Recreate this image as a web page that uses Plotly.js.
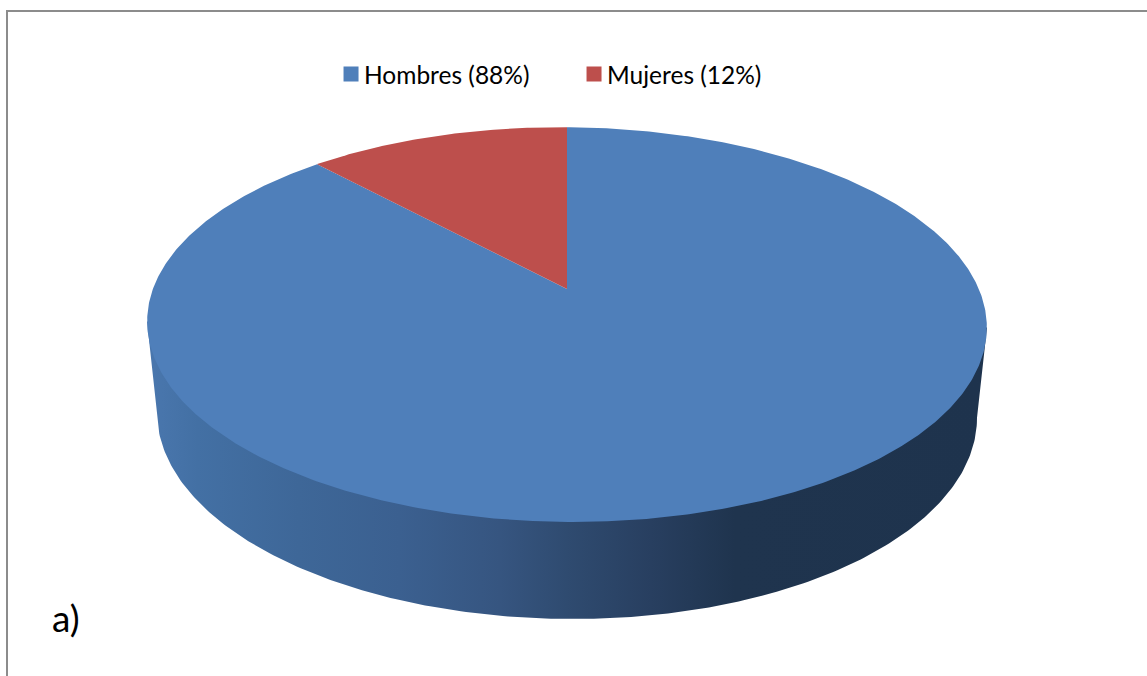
<!DOCTYPE html>
<html>
<head>
<meta charset="utf-8">
<script src="https://cdn.plot.ly/plotly-3.0.1.min.js"></script>
<style>html,body{margin:0;padding:0;background:#fff;overflow:hidden}#chart{width:1147px;height:676px}</style>
</head>
<body>
<div id="chart"></div>
<script>
// Data
var categories = ["Hombres", "Mujeres"];
var sharePercent = [88, 12];
var sliceColors = ["#4f7fba", "#bd4f4c"];
var panelLabel = "a)";
var fontName = "Lato, Carlito, 'Open Sans', sans-serif";

var wallColorStops = [
  [0.00, "#4a77ae"], [0.06, "#4370a4"], [0.18, "#3e6798"], [0.30, "#3b6090"],
  [0.42, "#365580"], [0.50, "#2f4b70"], [0.60, "#283f60"], [0.70, "#1f344e"], [1.00, "#1e334d"]
];

// Perspective view of the pie disc, in page pixels
var view = { cx: 567, apexY: 289, halfW: 413, scaleY: 191, tilt: 0.18, roll: 0.007 };
var base = { cx: 567, cy: 415, rx: 410, ry: 204 };

function rollY(x, y) { return y + view.roll * (x - view.cx); }

function project(turn) {
  var a = turn * 2 * Math.PI, u = Math.sin(a), v = Math.cos(a), d = 1 + view.tilt * v;
  var x = view.cx + view.halfW * u / d;
  return [x, rollY(x, view.apexY - view.scaleY * v / d)];
}

var traces = [];

// Wall: lower half of the base ellipse, closed through the disc's widest points
var wx = [], wy = [], i;
wx.push(view.cx - 420); wy.push(rollY(view.cx - 420, 324.5));
for (i = 0; i <= 240; i++) {
  var t = Math.PI * (1 - i / 240);
  var bx = base.cx + base.rx * Math.cos(t);
  wx.push(bx);
  wy.push(rollY(bx, base.cy + base.ry * Math.sin(t)));
}
wx.push(view.cx + 420); wy.push(rollY(view.cx + 420, 324.5));
traces.push({
  x: wx, y: wy, mode: "lines", line: { width: 0 }, fill: "toself",
  fillgradient: { type: "horizontal", colorscale: wallColorStops },
  showlegend: false, hoverinfo: "skip"
});

// Top face sectors, starting at 12 o'clock and running clockwise
var total = sharePercent.reduce(function (s, v) { return s + v; }, 0), from = 0;
sharePercent.forEach(function (value, k) {
  var span = value / total, n = Math.max(60, Math.round(span * 720));
  var xs = [view.cx], ys = [view.apexY];
  for (var j = 0; j <= n; j++) {
    var p = project(from + span * j / n);
    xs.push(p[0]); ys.push(p[1]);
  }
  xs.push(view.cx); ys.push(view.apexY);
  traces.push({
    x: xs, y: ys, mode: "lines", line: { width: 0, color: sliceColors[k] }, fill: "toself",
    fillcolor: sliceColors[k], showlegend: false, hoverinfo: "skip"
  });
  from += span;
});

// Legend entries with square keys
categories.forEach(function (name, k) {
  traces.push({
    x: [null], y: [null], mode: "markers", type: "scatter",
    name: name + " (" + sharePercent[k] + "%)",
    marker: { symbol: "square", size: 15, color: sliceColors[k] }
  });
});

var layout = {
  width: 1147, height: 676,
  margin: { l: 0, r: 0, t: 0, b: 0 },
  paper_bgcolor: "#ffffff", plot_bgcolor: "#ffffff",
  xaxis: { range: [0, 1147], visible: false, fixedrange: true, domain: [0, 1] },
  yaxis: { range: [676, 0], visible: false, fixedrange: true, domain: [0, 1] },
  font: { family: fontName, color: "#000000" },
  legend: {
    orientation: "h", x: 0.2825, xanchor: "left", y: 0.8905, yanchor: "middle",
    font: { family: fontName, size: 24.5, color: "#000000" },
    bgcolor: "rgba(0,0,0,0)", entrywidth: 198, entrywidthmode: "pixels",
    traceorder: "normal", itemsizing: "trace"
  },
  shapes: [
    { type: "line", xref: "paper", yref: "paper", x0: 7 / 1147, x1: 7 / 1147, y0: 0, y1: 665 / 676, line: { color: "#8c8c8c", width: 2 } },
    { type: "line", xref: "paper", yref: "paper", x0: 6 / 1147, x1: 1, y0: 665 / 676, y1: 665 / 676, line: { color: "#8c8c8c", width: 2 } }
  ],
  annotations: [
    { text: panelLabel, xref: "paper", yref: "paper", x: 50 / 1147, xanchor: "left", y: 1 - 617 / 676, yanchor: "middle",
      showarrow: false, font: { family: fontName, size: 37, color: "#000000" } }
  ]
};

Plotly.newPlot("chart", traces, layout, { displayModeBar: false, staticPlot: true }).then(function () {
  // Bring each legend key closer to its label, as in the reference
  document.querySelectorAll(".legend .legendsymbols").forEach(function (g) {
    g.setAttribute("transform", "translate(7,0)");
  });
});
</script>
</body>
</html>
